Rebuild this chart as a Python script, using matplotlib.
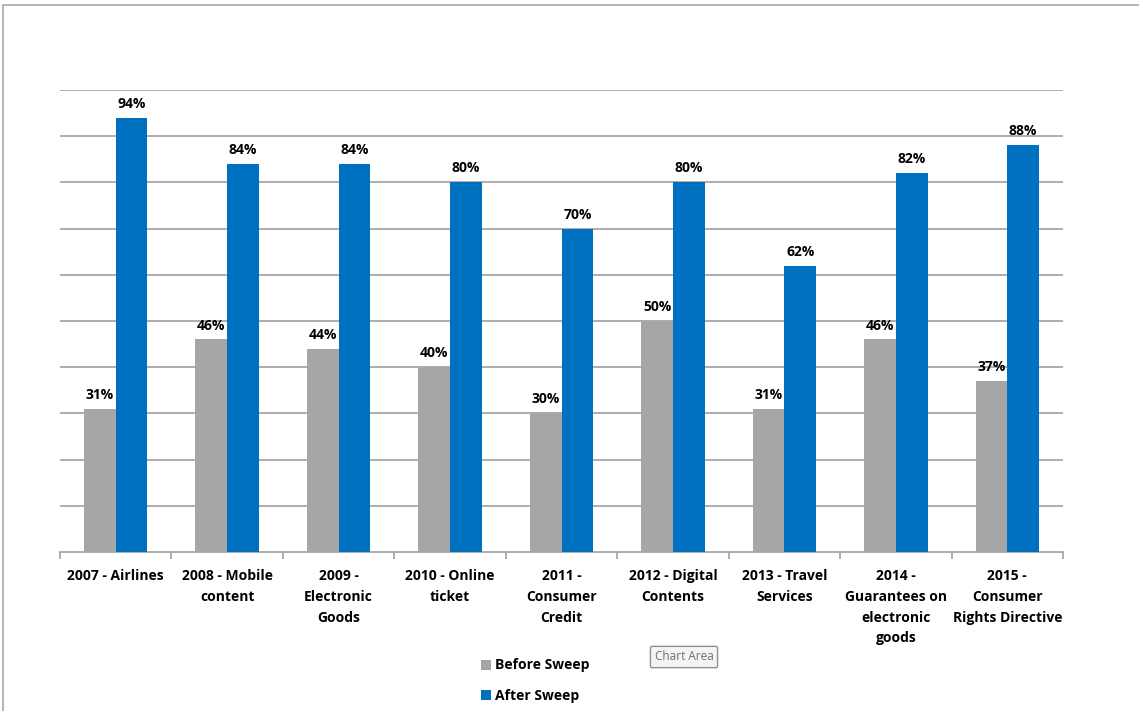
import numpy as np
import matplotlib.pyplot as plt
from matplotlib.patches import Rectangle

plt.rcParams['font.family'] = ['Open Sans', 'DejaVu Sans']

categories = ['2007 - Airlines', '2008 - Mobile\ncontent', '2009 -\nElectronic\nGoods',
              '2010 - Online\nticket', '2011 -\nConsumer\nCredit', '2012 - Digital\nContents',
              '2013 - Travel\nServices', '2014 -\nGuarantees on\nelectronic\ngoods',
              '2015 -\nConsumer\nRights Directive']
before_sweep = [31, 46, 44, 40, 30, 50, 31, 46, 37]
after_sweep = [94, 84, 84, 80, 70, 80, 62, 82, 88]

gray = '#a6a6a6'
blue = '#0070c0'

fig = plt.figure(figsize=(11.39, 7.11), dpi=100)
fig.patch.set_facecolor('white')

# chart area border (runs off the right and bottom edges)
fig.add_artist(Rectangle((3 / 1139, -0.1), 1.2, 1 - 5 / 711 + 0.1, transform=fig.transFigure,
                         fill=False, edgecolor='#a8a8a8', linewidth=1.2))

ax = fig.add_axes([60 / 1139, 1 - 552 / 711, (1063 - 60) / 1139, (552 - 90) / 711])

x = np.arange(len(categories))
w = 0.285
b1 = ax.bar(x - w / 2, before_sweep, w, color=gray, label='Before Sweep', zorder=3)
b2 = ax.bar(x + w / 2, after_sweep, w, color=blue, label='After Sweep', zorder=3)

for bars, vals in ((b1, before_sweep), (b2, after_sweep)):
    for r, v in zip(bars, vals):
        ax.annotate(f'{v}%', (r.get_x() + r.get_width() / 2, v), xytext=(0, 5),
                    textcoords='offset points', ha='center', va='bottom',
                    fontsize=10, fontweight='bold')

ax.set_xlim(-0.5, len(categories) - 0.5)
ax.set_ylim(0, 100)
ax.set_yticks(np.arange(10, 101, 10))
ax.yaxis.grid(True, color='#a0a0a0', linewidth=1.2, zorder=0)
ax.tick_params(axis='y', length=0, labelleft=False)

ax.set_xticks(x)
ax.set_xticklabels(categories, fontsize=10, fontweight='bold', linespacing=1.63)
ax.tick_params(axis='x', length=0, pad=12)
ax.set_xticks(np.arange(-0.5, len(categories)), minor=True)
ax.tick_params(axis='x', which='minor', length=5, color='#a0a0a0', width=1.2)

for s in ('top', 'right', 'left'):
    ax.spines[s].set_visible(False)
ax.spines['bottom'].set_color('#a0a0a0')
ax.spines['bottom'].set_linewidth(1.2)

fig.legend(handles=[b1, b2], loc='upper left', bbox_to_anchor=(468 / 1139, 1 - 646 / 711),
           frameon=False, handlelength=0.75, handleheight=0.75, handletextpad=0.3,
           labelspacing=1.2, prop={'size': 10, 'weight': 'bold'})

fig.text(684 / 1139, 1 - 657 / 711, 'Chart Area', ha='center', va='center', fontsize=8.5,
         color='#707070',
         bbox=dict(boxstyle='round,pad=0.35,rounding_size=0.15', facecolor='#f4f4f4',
                   edgecolor='#909090', linewidth=1))

fig.savefig('out.png', dpi=100)
